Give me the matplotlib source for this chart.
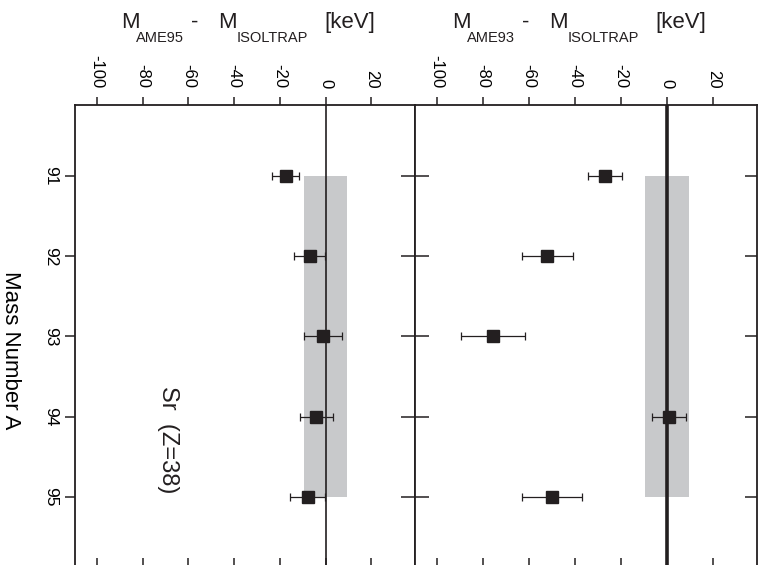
import matplotlib
matplotlib.use("Agg")
import matplotlib.pyplot as plt
from matplotlib.transforms import offset_copy

plt.rcParams['font.family'] = ['Liberation Sans', 'DejaVu Sans']

# ---- data ----
mass = [91, 92, 93, 94, 95]
ame95_diff = [-17.5, -7.0, -1.2, -4.1, -7.9]
ame95_err = [6.0, 6.7, 8.3, 7.3, 7.6]
ame93_diff = [-27.1, -52.1, -75.7, 0.9, -50.0]
ame93_err = [7.3, 11.0, 14.0, 7.3, 13.0]
band_lo, band_hi = -9.5, 9.5
xticks = [-100, -80, -60, -40, -20, 0, 20]
xlim = (-109.5, 39.0)
ylim = (95.885, 90.115)

W, H = 764, 565
fig = plt.figure(figsize=(W / 100, H / 100), dpi=100)

def fx(px):
    return px / W

def fy(py):
    return 1 - py / H

top, bottom = 105, 568
axL = fig.add_axes([fx(75), fy(bottom), fx(415) - fx(75), fy(top) - fy(bottom)])
axR = fig.add_axes([fx(415), fy(bottom), fx(757) - fx(415), fy(top) - fy(bottom)])

ink = '#231f20'
band_col = '#c8c9cb'

def panel(ax, vals, errs, zero_lw):
    ax.set_xlim(*xlim)
    ax.set_ylim(*ylim)
    ax.fill_betweenx([mass[0], mass[-1]], band_lo, band_hi, color=band_col, lw=0, zorder=1)
    ax.axvline(0, color=ink, lw=zero_lw, zorder=2)
    ax.errorbar(vals, mass, xerr=errs, fmt='s', ms=8.5, mfc=ink, mec=ink,
                ecolor=ink, elinewidth=0.9, capsize=3.2, capthick=0.9, zorder=3)
    for s in ax.spines.values():
        s.set_linewidth(1.3)
        s.set_color(ink)
    ax.set_xticks(xticks)
    ax.set_xticklabels([str(t) for t in xticks], rotation=270)
    ax.tick_params(axis='x', which='both', top=True, bottom=True,
                   labeltop=True, labelbottom=False, direction='in',
                   length=7, width=1.1, color=ink, labelsize=12, pad=12)
    # top ticks outward
    for t in ax.xaxis.get_major_ticks():
        t.tick2line.set_marker(2)
        t.tick2line.set_markersize(6)
    ax.set_yticks(mass)

panel(axL, ame95_diff, ame95_err, 1.2)
panel(axR, ame93_diff, ame93_err, 2.6)

axL.set_yticklabels([str(m) for m in mass], rotation=270)
axL.tick_params(axis='y', left=True, right=False, direction='out', length=7,
                width=1.1, color=ink, labelsize=12.5, pad=5)
for lab in axL.get_yticklabels():
    lab.set_va('center')
axL.set_ylabel('Mass Number A', rotation=270, fontsize=16)
axL.yaxis.set_label_coords((10 - 75) / 340, 0.47)
axL.yaxis.label.set_va('center')
axL.yaxis.label.set_ha('center')

axR.tick_params(axis='y', left=True, right=False, labelleft=False,
                direction='inout', length=20, width=1.1, color=ink)
axR2 = axR.twinx()
axR2.set_ylim(*ylim)
axR2.set_yticks(mass)
axR2.tick_params(axis='y', right=True, labelright=False, direction='in',
                 length=9, width=1.1, color=ink)
for s in axR2.spines.values():
    s.set_visible(False)

axL.text((168 - 75) / 340, (568 - 440) / 463, 'Sr  (Z=38)', transform=axL.transAxes,
         rotation=270, fontsize=17, ha='center', va='center', color=ink)

# titles built from pieces (text, size, dx from axes left in px, baseline dy above axes top in px)
def title(ax, start, sub):
    pieces = [('M', 16, 0, 77), (sub, 10.5, 15, 63), ('-', 16, 70, 77),
              ('M', 16, 97, 77), ('ISOLTRAP', 10.5, 116, 63), ('[keV]', 16, 203, 77)]
    for txt, size, dx, dy in pieces:
        tr = offset_copy(ax.transAxes, fig=fig, x=start + dx, y=dy, units='dots')
        ax.text(0, 1, txt, transform=tr, fontsize=size, ha='left',
                va='baseline', color=ink)

title(axL, 46, 'AME95')
title(axR, 37, 'AME93')

fig.savefig('out.png', dpi=100)
